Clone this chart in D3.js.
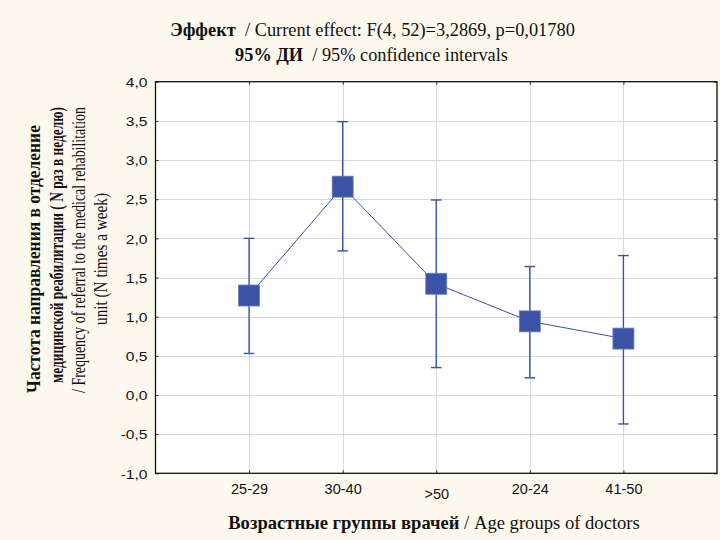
<!DOCTYPE html>
<html>
<head>
<meta charset="utf-8">
<script src="https://cdn.jsdelivr.net/npm/d3@7"></script>
<style>
  html, body { margin: 0; padding: 0; background: #fdf9ee; }
  svg { display: block; }
</style>
</head>
<body>
<svg id="chart" width="720" height="540"></svg>
<script>
// Age groups and mean referral frequency with 95% confidence limits
const groups = ["25-29", "30-40", ">50", "20-24", "41-50"];
const means  = [1.27, 2.66, 1.42, 0.94, 0.72];
const lower  = [0.53, 1.84, 0.35, 0.22, -0.37];
const upper  = [2.00, 3.49, 2.49, 1.64, 1.78];
const yTicks = [-1.0, -0.5, 0.0, 0.5, 1.0, 1.5, 2.0, 2.5, 3.0, 3.5, 4.0];

const svg = d3.select("#chart");
const m = { left: 155.5, right: 717, top: 81.7, bottom: 473.3 };
const serif = "Liberation Serif";
const sans = "Liberation Sans";
const blue = "#3a53a4";

const x = d3.scalePoint().domain(groups).range([m.left, m.right]).padding(1);
const y = d3.scaleLinear().domain([-1, 4]).range([m.bottom, m.top]);

// plot area
svg.append("rect")
  .attr("x", m.left).attr("y", m.top)
  .attr("width", m.right - m.left).attr("height", m.bottom - m.top)
  .attr("fill", "#ffffff");

// grid
const grid = svg.append("g").attr("stroke", "#d9d9d9").attr("stroke-width", 1);
grid.selectAll("line.h").data(yTicks.slice(1, -1)).join("line")
  .attr("x1", m.left).attr("x2", m.right)
  .attr("y1", d => Math.round(y(d)) + 0.5).attr("y2", d => Math.round(y(d)) + 0.5);
grid.selectAll("line.v").data(groups).join("line")
  .attr("y1", m.top).attr("y2", m.bottom)
  .attr("x1", d => Math.round(x(d)) + 0.5).attr("x2", d => Math.round(x(d)) + 0.5);

// axes with inward ticks on all four sides
const fmt = d => d3.format(".1f")(d).replace(".", ",").replace("−", "-");
const gy = svg.append("g").attr("transform", `translate(${m.left},0)`)
  .call(d3.axisLeft(y).tickValues(yTicks).tickSizeInner(-3).tickSizeOuter(0).tickPadding(8).tickFormat(fmt));
// y tick labels are drawn wide: stretch each one horizontally about its right edge
gy.selectAll("text")
  .style("font-family", sans).attr("font-size", 12).attr("fill", "#111").attr("dy", "0.4em")
  .attr("transform", "translate(-8,0) scale(1.3,1) translate(8,0)");

svg.append("g").attr("transform", `translate(${m.right},0)`)
  .call(d3.axisRight(y).tickValues(yTicks).tickSizeInner(-3).tickSizeOuter(0).tickFormat(""));

const gx = svg.append("g").attr("transform", `translate(0,${m.bottom})`)
  .call(d3.axisBottom(x).tickSizeInner(-3).tickSizeOuter(0));
gx.selectAll("text")
  .style("font-family", sans).attr("font-size", 14.5).attr("fill", "#111")
  .attr("dy", 0).attr("y", d => d === ">50" ? 25.7 : 21);

svg.append("g").attr("transform", `translate(0,${m.top})`)
  .call(d3.axisTop(x).tickSizeInner(-3).tickSizeOuter(0).tickFormat(""));

svg.selectAll(".domain").attr("stroke", "none");
svg.selectAll(".tick line").attr("stroke", "#333");

// frame
svg.append("rect")
  .attr("x", m.left).attr("y", m.top)
  .attr("width", m.right - m.left).attr("height", m.bottom - m.top)
  .attr("fill", "none").attr("stroke", "#111").attr("stroke-width", 1.3);

// confidence intervals
const ci = svg.append("g").attr("stroke", blue).attr("stroke-width", 1.4).attr("fill", "none");
groups.forEach((g, i) => {
  const cx = x(g);
  ci.append("line").attr("x1", cx).attr("x2", cx).attr("y1", y(lower[i])).attr("y2", y(upper[i]));
  ci.append("line").attr("x1", cx - 5.3).attr("x2", cx + 5.3).attr("y1", y(lower[i])).attr("y2", y(lower[i]));
  ci.append("line").attr("x1", cx - 5.3).attr("x2", cx + 5.3).attr("y1", y(upper[i])).attr("y2", y(upper[i]));
});

// means line
svg.append("path")
  .datum(groups.map((g, i) => [x(g), y(means[i])]))
  .attr("d", d3.line())
  .attr("fill", "none").attr("stroke", blue).attr("stroke-width", 1);

// square markers
const s = 21;
svg.selectAll("rect.pt").data(groups).join("rect")
  .attr("class", "pt")
  .attr("x", d => x(d) - s / 2)
  .attr("y", (d, i) => y(means[i]) - s / 2)
  .attr("width", s).attr("height", s)
  .attr("fill", blue).attr("stroke", "#6b7fc0").attr("stroke-width", 0.8);

// helper: text line made of bold / regular runs, scaled along its run to a set length
function label(parent, runs, opts) {
  const g = parent.append("g")
    .attr("transform", `translate(${opts.x},${opts.y})` + (opts.rotate ? ` rotate(${opts.rotate})` : ""));
  const t = g.append("text")
    .attr("text-anchor", "middle")
    .style("font-family", serif)
    .attr("font-size", opts.size)
    .attr("fill", "#111");
  runs.forEach(r => {
    t.append("tspan").style("font-family", serif)
      .attr("font-weight", r.bold ? "bold" : "normal").text(r.text);
  });
  const w = t.node().getComputedTextLength();
  t.attr("transform", `scale(${opts.len / w},1)`);
  return t;
}

// title
label(svg, [{ text: "Эффект", bold: true }, { text: "\u00a0\u00a0/ Current effect: F(4, 52)=3,2869, p=0,01780" }],
  { x: 372.5, y: 36, size: 18, len: 405 });
label(svg, [{ text: "95% ДИ", bold: true }, { text: "\u00a0\u00a0/ 95% confidence intervals" }],
  { x: 371.5, y: 61, size: 18, len: 273 });

// x axis title
label(svg, [{ text: "Возрастные группы врачей", bold: true }, { text: " / Age groups of doctors" }],
  { x: 434, y: 529, size: 18, len: 412 });

// y axis title (four rotated lines)
const yLines = [
  { runs: [{ text: "Частота направления в отделение", bold: true }], bx: 40, cy: 259, len: 268 },
  { runs: [{ text: "медицинской реабилитации ( N раз в неделю)", bold: true }], bx: 63, cy: 245, len: 276 },
  { runs: [{ text: "/ Frequency of referral to the medical rehabilitation" }], bx: 85, cy: 250, len: 286 },
  { runs: [{ text: "unit (N times a week)" }], bx: 107, cy: 259, len: 132 }
];
yLines.forEach(l => {
  label(svg, l.runs, { x: l.bx, y: l.cy, rotate: -90, size: 19, len: l.len });
});
</script>
</body>
</html>
